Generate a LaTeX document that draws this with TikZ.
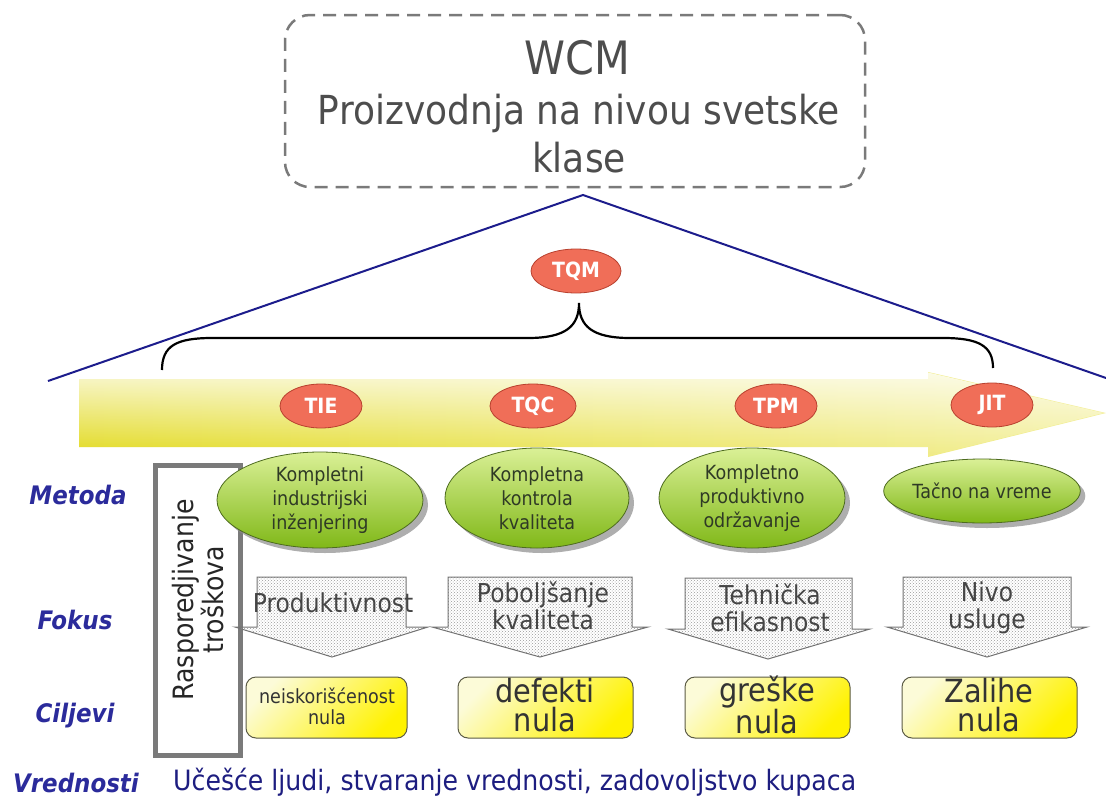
\documentclass[tikz,border=0pt]{standalone}
\usepackage{fontspec}
\setmainfont{DejaVu Sans}[FakeStretch=0.9]
\usetikzlibrary{shapes.geometric,shadows,patterns,fadings}

\definecolor{boxgrey}{HTML}{7A7A7A}
\definecolor{titlegrey}{HTML}{4D4D4D}
\definecolor{navy}{HTML}{1C1C8C}
\definecolor{labblue}{HTML}{2B2B9B}
\definecolor{valblue}{HTML}{1D1D80}
\definecolor{bandL}{HTML}{E2DA1E}
\definecolor{bandR}{HTML}{F3EF9A}
\definecolor{redfill}{HTML}{F06E58}
\definecolor{redline}{HTML}{B8402E}
\definecolor{greenTop}{HTML}{DAF096}
\definecolor{greenBot}{HTML}{80B818}
\definecolor{greenLine}{HTML}{4D6B1F}
\definecolor{greenText}{HTML}{2F3A25}
\definecolor{goalA}{HTML}{FCFBD8}
\definecolor{goalB}{HTML}{FFF200}
\definecolor{goalLine}{HTML}{5B5B45}
\definecolor{focusText}{HTML}{454545}

\tikzfading[name=topwhite, top color=transparent!20, bottom color=transparent!100]

\tikzset{
  pillar/.style={ellipse, draw=redline, line width=0.8, fill=redfill, text=white,
    font=\bfseries\fontsize{21}{23}\selectfont, minimum width=82, minimum height=44, inner sep=0},
  method/.style={ellipse, draw=greenLine, line width=0.8, top color=greenTop, bottom color=greenBot,
    drop shadow={shadow xshift=5pt, shadow yshift=-5pt, fill=black!45, opacity=0.7},
    inner sep=0, align=center, text=greenText, font=\fontsize{19.5}{24}\selectfont},
  focusarrow/.style={draw=black!55, line width=1, pattern=crosshatch dots, pattern color=black!40},
  focustext/.style={align=center, text=focusText, font=\fontsize{26}{27}\selectfont, inner sep=0},
  goalbox/.style={draw=goalLine, line width=1, rounded corners=10,
    left color=goalA, right color=goalB, shading angle=45},
  goaltext/.style={align=center, text=black!80, inner sep=0},
  rowlabel/.style={text=labblue, inner sep=0, font=\bfseries\itshape\fontsize{25.5}{28}\selectfont},
}

\begin{document}
\begin{tikzpicture}[x=1pt,y=-1pt]
\useasboundingbox (0,0) rectangle (1106,798);

% title box
\node[draw=boxgrey, line width=2.5, dash pattern=on 13pt off 8pt, rounded corners=25,
      minimum width=580, minimum height=172] (wcm) at (575,101) {};
\node[text=titlegrey, font=\fontsize{46}{50}\selectfont] (wcmtitle) at (577,58) {WCM};
\node[text=titlegrey, align=center, font=\fontsize{40}{48}\selectfont] (wcmsub) at (579,134)
  {Proizvodnja na nivou svetske\\klase};

% roof
\coordinate (roofL) at (48,381);
\coordinate (roofTop) at (583,195);
\coordinate (roofR) at (1106,378);

% main band arrow
\path[left color=bandL, right color=bandR,
      postaction={fill=white, path fading=topwhite}]
  (79,379) -- (928,379) -- (928,372) -- (1106,413) -- (928,457) -- (928,447) -- (79,447) -- cycle;

\draw[navy, line width=2] (roofL) -- (roofTop) -- (roofR);

% brace under TQM
\draw[black, line width=2.2]
  (162,370) .. controls (162,346) and (176,338) .. (212,338) -- (528,338)
  .. controls (566,338) and (579,326) .. (579,303)
  .. controls (579,326) and (592,338) .. (630,338) -- (943,338)
  .. controls (979,338) and (993,346) .. (993,368);

\node[pillar, minimum width=90] (tqm) at (576,271) {TQM};
\node[pillar] (tie) at (321,406) {TIE};
\node[pillar, minimum width=86] (tqc) at (533,406) {TQC};
\node[pillar] (tpm) at (776,406) {TPM};
\node[pillar] (jit) at (992,405) {JIT};

% cost allocation column
\draw[boxgrey, line width=5, fill=white] (155.5,465.5) rectangle (240.5,755.5);
\node[rotate=90, align=center, text=black!85, font=\fontsize{28}{30}\selectfont] (cost) at (198,600)
  {Rasporedjivanje\\troškova};

% methods
\node[method, minimum width=206, minimum height=96] (m1) at (320,500) {Kompletni\\industrijski\\inženjering};
\node[method, minimum width=184, minimum height=100] (m2) at (537,498) {Kompletna\\kontrola\\kvaliteta};
\node[method, minimum width=186, minimum height=100] (m3) at (752,498) {Kompletno\\produktivno\\održavanje};
\node[method, minimum width=194, minimum height=64] (m4) at (982,491) {Tačno na vreme};

% focus arrows
\path[focusarrow] (257,577) -- (406,577) -- (406,627) -- (428,627) -- (332,657) -- (235,627) -- (257,627) -- cycle;
\path[focusarrow] (448,577) -- (632,577) -- (632,627) -- (648,627) -- (540,657) -- (432,627) -- (448,627) -- cycle;
\path[focusarrow] (685,578) -- (852,578) -- (852,629) -- (870,629) -- (768,659) -- (668,629) -- (685,629) -- cycle;
\path[focusarrow] (903,577) -- (1071,577) -- (1071,627) -- (1087,627) -- (987,657) -- (887,627) -- (903,627) -- cycle;

\node[focustext] (f1) at (333,603) {Produktivnost};
\node[focustext] (f2) at (543,606) {Poboljšanje\\kvaliteta};
\node[focustext] (f3) at (770,608) {Tehnička\\efikasnost};
\node[focustext] (f4) at (987,608) {Nivo\\usluge};

% goals
\path[goalbox] (246,677) rectangle (407,738);
\path[goalbox] (458,677) rectangle (633,738);
\path[goalbox] (685,677) rectangle (850,738);
\path[goalbox] (902,677) rectangle (1077,738);

\node[goaltext, font=\fontsize{19.5}{21}\selectfont] (g1) at (327,706) {neiskorišćenost\\nula};
\node[goaltext, font=\fontsize{32}{29}\selectfont] (g2) at (545,705) {defekti\\nula};
\node[goaltext, font=\fontsize{32}{29}\selectfont] (g3) at (767,705) {greške\\nula};
\node[goaltext, font=\fontsize{32}{29}\selectfont] (g4) at (989,705) {Zalihe\\nula};

% row labels
\node[rowlabel] (lmet) at (78,495) {Metoda};
\node[rowlabel] (lfok) at (75,620) {Fokus};
\node[rowlabel] (lcil) at (75,716) {Ciljevi};
\node[rowlabel] (lvre) at (76,783) {Vrednosti};

\node[anchor=west, inner sep=0, text=valblue, font=\fontsize{28}{30}\selectfont] (values) at (173,782)
  {Učešće ljudi, stvaranje vrednosti, zadovoljstvo kupaca};
\end{tikzpicture}
\end{document}
